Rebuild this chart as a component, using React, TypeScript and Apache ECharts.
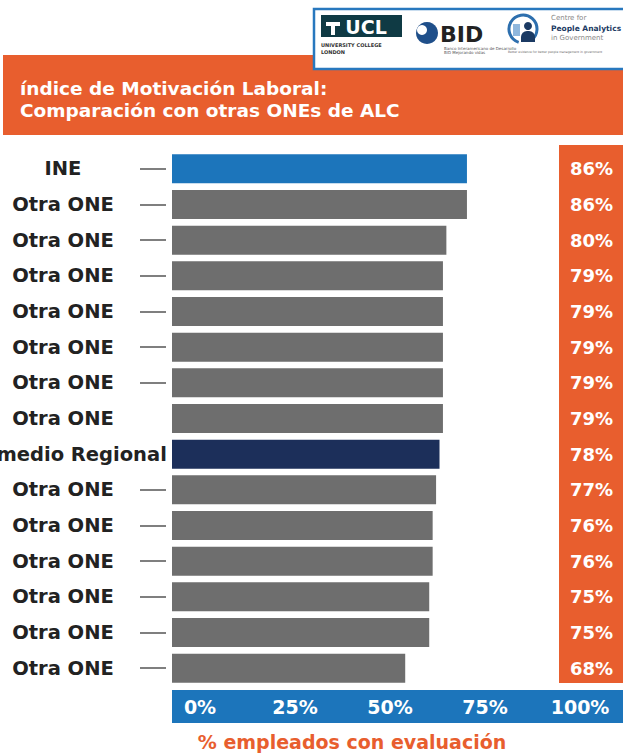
import React, { useEffect, useRef } from "react";
import * as echarts from "echarts";

const categories = [
  "INE",
  "Otra ONE",
  "Otra ONE",
  "Otra ONE",
  "Otra ONE",
  "Otra ONE",
  "Otra ONE",
  "Otra ONE",
  "Promedio Regional",
  "Otra ONE",
  "Otra ONE",
  "Otra ONE",
  "Otra ONE",
  "Otra ONE",
  "Otra ONE",
];
const values = [86, 86, 80, 79, 79, 79, 79, 79, 78, 77, 76, 76, 75, 75, 68];
const axisTickValues = [0, 25, 50, 75, 100];
const rowsWithoutTick = [7, 8];

const FONT = '"DejaVu Sans", sans-serif';
const ORANGE = "#e85e2e";
const BLUE = "#1c75bb";
const NAVY = "#1c2f5a";
const GREY = "#6e6e6e";

function colorFor(name: string) {
  if (name === "INE") return BLUE;
  if (name === "Promedio Regional") return NAVY;
  return GREY;
}

export default function App() {
  const ref = useRef<HTMLDivElement>(null);
  useEffect(() => {
    if (!ref.current) return;
    const chart = echarts.init(ref.current, null, { renderer: "svg" });
    const valueLabels = values.map((v) => `${v}%`);
    chart.setOption({
      animation: false,
      title: {
        text: "índice de Motivación Laboral:\nComparación con otras ONEs de ALC",
        left: 15,
        top: 72,
        textStyle: {
          color: "#fff",
          fontFamily: FONT,
          fontWeight: "bold",
          fontSize: 18.5,
          lineHeight: 22,
        },
      },
      graphic: [
        { type: "rect", z: -2, shape: { x: 3, y: 55, width: 620, height: 80 }, style: { fill: ORANGE } },
        { type: "rect", z: -2, shape: { x: 559, y: 145, width: 64, height: 538 }, style: { fill: ORANGE } },
        { type: "rect", z: -2, shape: { x: 172, y: 690, width: 451, height: 33 }, style: { fill: BLUE } },
        {
          type: "text",
          x: 352,
          y: 742,
          style: {
            text: "% empleados con evaluación",
            fill: ORANGE,
            font: `bold 19px ${FONT}`,
            textAlign: "center",
            textVerticalAlign: "middle",
          },
        },
        // logo box
        {
          type: "group",
          z: 5,
          children: [
            { type: "rect", shape: { x: 314, y: 9, width: 312, height: 60 }, style: { fill: "#fff", stroke: "#2878be", lineWidth: 2.5 } },
            { type: "rect", shape: { x: 321, y: 15, width: 81, height: 22 }, style: { fill: "#0f3a44" } },
            { type: "text", x: 366, y: 27, style: { text: "UCL", fill: "#fff", font: `bold 19px ${FONT}`, textAlign: "center", textVerticalAlign: "middle" } },
            { type: "rect", shape: { x: 326, y: 22, width: 14, height: 4 }, style: { fill: "#fff" } },
            { type: "rect", shape: { x: 331, y: 26, width: 4, height: 9 }, style: { fill: "#fff" } },
            { type: "text", x: 321, y: 45, style: { text: "UNIVERSITY COLLEGE", fill: "#333", font: `bold 5px ${FONT}`, textVerticalAlign: "middle" } },
            { type: "text", x: 321, y: 52, style: { text: "LONDON", fill: "#333", font: `bold 5px ${FONT}`, textVerticalAlign: "middle" } },
            { type: "circle", shape: { cx: 427, cy: 33, r: 11 }, style: { fill: "#1f4f8a" } },
            { type: "circle", shape: { cx: 422, cy: 30, r: 5 }, style: { fill: "#fff" } },
            { type: "text", x: 440, y: 34, style: { text: "BID", fill: "#222", font: `bold 22px ${FONT}`, textVerticalAlign: "middle" } },
            { type: "text", x: 444, y: 48, style: { text: "Banco Interamericano de Desarrollo", fill: "#555", font: `4px ${FONT}`, textVerticalAlign: "middle" } },
            { type: "text", x: 444, y: 52, style: { text: "BID Mejorando vidas", fill: "#555", font: `4px ${FONT}`, textVerticalAlign: "middle" } },
            { type: "arc", shape: { cx: 523, cy: 29, r: 14, startAngle: Math.PI * 0.6, endAngle: Math.PI * 2.3 }, style: { stroke: "#2d6fae", lineWidth: 3, fill: "none" } },
            { type: "circle", shape: { cx: 528, cy: 26, r: 4 }, style: { fill: "#1b3a63" } },
            { type: "rect", shape: { x: 521, y: 31, width: 14, height: 11, r: [6, 6, 0, 0] }, style: { fill: "#1b3a63" } },
            { type: "rect", shape: { x: 513, y: 24, width: 7, height: 12 }, style: { fill: "#8fb7dd" } },
            { type: "text", x: 551, y: 18, style: { text: "Centre for", fill: "#888", font: `7px ${FONT}`, textVerticalAlign: "middle" } },
            { type: "text", x: 551, y: 28, style: { text: "People Analytics", fill: "#1b3a63", font: `bold 7.5px ${FONT}`, textVerticalAlign: "middle" } },
            { type: "text", x: 551, y: 38, style: { text: "in Government", fill: "#888", font: `7px ${FONT}`, textVerticalAlign: "middle" } },
            { type: "text", x: 508, y: 52, style: { text: "Better evidence for better people management in government", fill: "#666", font: `3px ${FONT}`, textVerticalAlign: "middle" } },
          ],
        },
      ],
      grid: { left: 172, right: 0, top: 151, bottom: 67, outerBoundsMode: "none", containLabel: false },
      xAxis: [
        { type: "value", min: 0, max: 131.5, show: false },
        {
          type: "value",
          position: "bottom",
          min: -7.37,
          max: 111.3,
          axisLine: { show: false },
          axisTick: { show: false },
          splitLine: { show: false },
          axisLabel: {
            customValues: axisTickValues,
            formatter: "{value}%",
            color: "#fff",
            fontFamily: FONT,
            fontWeight: "bold",
            fontSize: 19,
            margin: 11,
          },
        },
      ],
      yAxis: [
        {
          type: "category",
          data: categories,
          inverse: true,
          offset: 6,
          axisLine: { show: false },
          axisTick: {
            show: true,
            length: 32,
            alignWithLabel: true,
            interval: (i: number) => !rowsWithoutTick.includes(i),
            lineStyle: { color: "#555", width: 1.5, type: [0, 6, 26, 10] },
          },
          axisLabel: {
            interval: 0,
            align: "center",
            margin: 103,
            color: "#222",
            fontFamily: FONT,
            fontWeight: "bold",
            fontSize: 19.5,
          },
        },
        {
          type: "category",
          data: valueLabels,
          inverse: true,
          position: "right",
          axisLine: { show: false },
          axisTick: { show: false },
          axisLabel: {
            inside: true,
            interval: 0,
            margin: 10,
            color: "#fff",
            fontFamily: FONT,
            fontWeight: "bold",
            fontSize: 18,
          },
        },
      ],
      series: [
        {
          type: "bar",
          xAxisIndex: 0,
          yAxisIndex: 0,
          barWidth: 29,
          data: values.map((v, i) => ({ value: v, itemStyle: { color: colorFor(categories[i]) } })),
        },
      ],
    });
    return () => chart.dispose();
  }, []);
  return (
    <div
      ref={ref}
      style={{ position: "absolute", left: 0, top: 0, width: 623, height: 753 }}
    />
  );
}
